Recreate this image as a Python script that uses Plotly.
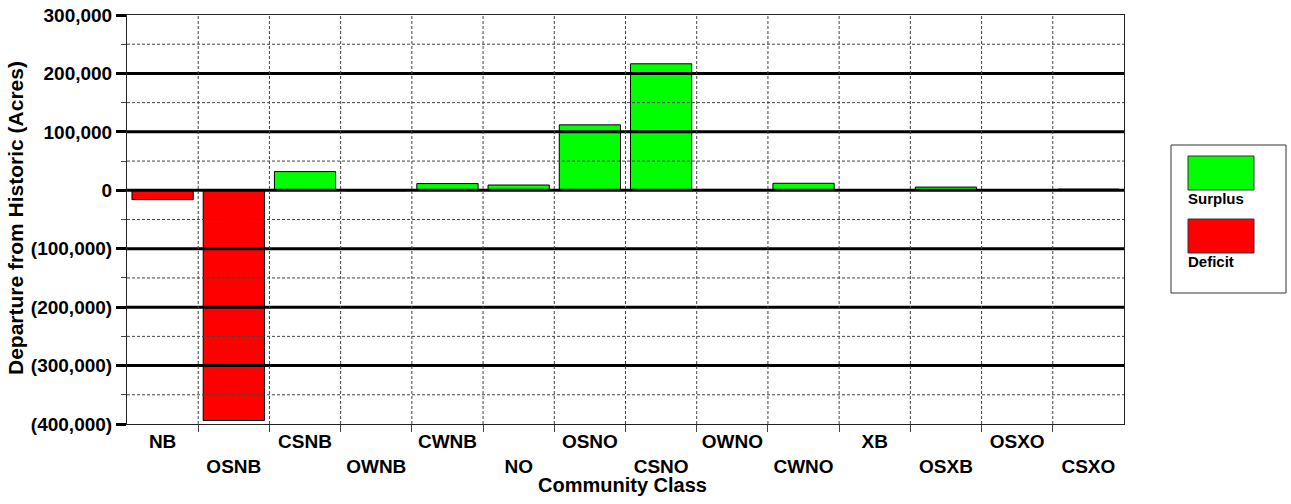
import plotly.graph_objects as go

categories = ["NB", "OSNB", "CSNB", "OWNB", "CWNB", "NO", "OSNO", "CSNO",
              "OWNO", "CWNO", "XB", "OSXB", "OSXO", "CSXO"]
departure = [-16000, -394000, 32000, -800, 11500, 9000, 112000, 216500,
             1500, 12000, 0, 5500, 0, 2000]

y_ticks = [300000, 200000, 100000, 0, -100000, -200000, -300000, -400000]
y_minor = [250000, 150000, 50000, -50000, -150000, -250000, -350000]

FONT = "Liberation Sans, Arial, sans-serif"
GREEN = "#00ff00"
RED = "#ff0000"

W, H = 1291, 504
L, R, T, B = 127, 1124, 15, 424   # plot area in pixels


def px(x, y):
    # pixel -> paper coordinates, used for the hand drawn legend/titles
    return (x - L) / (R - L), (B - y) / (B - T)


def fmt(v):
    s = f"{abs(v):,}"
    return f"({s})" if v < 0 else s


xs = list(range(len(categories)))
ticktext = [c if i % 2 == 0 else " <br>" + c for i, c in enumerate(categories)]

fig = go.Figure()

for name, color, keep in [("Surplus", GREEN, lambda v: v >= 0),
                          ("Deficit", RED, lambda v: v < 0)]:
    fig.add_trace(go.Bar(
        x=[x for x, v in zip(xs, departure) if keep(v)],
        y=[v for v in departure if keep(v)],
        name=name,
        marker=dict(color=color, line=dict(color="black", width=1)),
        width=0.86,
        showlegend=False,
    ))

# grid drawn over the bars, like the original
for v in y_ticks[1:-1]:
    fig.add_hline(y=v, line=dict(color="black", width=3), layer="above")
for v in y_minor:
    fig.add_hline(y=v, line=dict(color="#444", width=1, dash="3px,2px"), layer="above")
for i in range(len(categories) - 1):
    fig.add_vline(x=i + 0.5, line=dict(color="#444", width=1, dash="3px,2px"), layer="above")

# legend box
x0, y0 = px(1171, 293)
x1, y1 = px(1286, 145)
fig.add_shape(type="rect", xref="paper", yref="paper", x0=x0, y0=y0, x1=x1, y1=y1,
              line=dict(color="#333", width=1), fillcolor="white")
for (name, color, top, bot, base) in [("Surplus", GREEN, 156, 190, 209),
                                      ("Deficit", RED, 219, 253, 272)]:
    a0, b0 = px(1188, bot)
    a1, b1 = px(1254, top)
    fig.add_shape(type="rect", xref="paper", yref="paper", x0=a0, y0=b0, x1=a1, y1=b1,
                  line=dict(color="#333", width=1), fillcolor=color)
    tx, ty = px(1186, base)
    fig.add_annotation(text=name, xref="paper", yref="paper", x=tx, y=ty,
                       xanchor="left", yanchor="bottom", showarrow=False,
                       font=dict(family=FONT, size=15, color="black", weight="bold"))

# axis titles
ax, ay = px(15, 218)
fig.add_annotation(text="Departure from Historic (Acres)", xref="paper", yref="paper",
                   x=ax, y=ay, textangle=-90, showarrow=False,
                   xanchor="center", yanchor="middle",
                   font=dict(family=FONT, size=21, weight="bold"))
bx, by = px(622, 485)
fig.add_annotation(text="Community Class", xref="paper", yref="paper",
                   x=bx, y=by, showarrow=False, xanchor="center", yanchor="middle",
                   font=dict(family=FONT, size=20, weight="bold"))

fig.update_layout(
    width=W, height=H,
    margin=dict(l=L, r=W - R, t=T, b=H - B),
    plot_bgcolor="white", paper_bgcolor="white",
    font=dict(family=FONT, color="black"),
)

fig.update_xaxes(
    range=[-0.5, len(categories) - 0.5], automargin=False,
    tickmode="array", tickvals=xs, ticktext=ticktext,
    ticks="", showgrid=False, zeroline=False,
    tickfont=dict(family=FONT, size=19, weight="bold"),
    showline=True, mirror=True, linecolor="#222", linewidth=1,
    minor=dict(tickmode="array", tickvals=[i + 0.5 for i in range(len(categories) - 1)],
               ticks="outside", ticklen=7, tickwidth=1, tickcolor="#444", showgrid=False),
)

fig.update_yaxes(
    range=[-400000, 300000], automargin=False, ticklabeloverflow="allow",
    tickmode="array", tickvals=y_ticks, ticktext=[fmt(v) for v in y_ticks],
    ticks="outside", ticklen=10, tickwidth=3, tickcolor="black",
    showgrid=False, zeroline=False,
    tickfont=dict(family=FONT, size=19, weight="bold"),
    showline=True, mirror=True, linecolor="#222", linewidth=1,
    minor=dict(tickmode="array", tickvals=y_minor, ticks="outside",
               ticklen=5, tickwidth=1, tickcolor="#444", showgrid=False),
)

# drop the default page margin so the figure fills the window exactly
fig.write_html("out.html", config=dict(displayModeBar=False),
               post_script="document.body.style.margin = '0';")
